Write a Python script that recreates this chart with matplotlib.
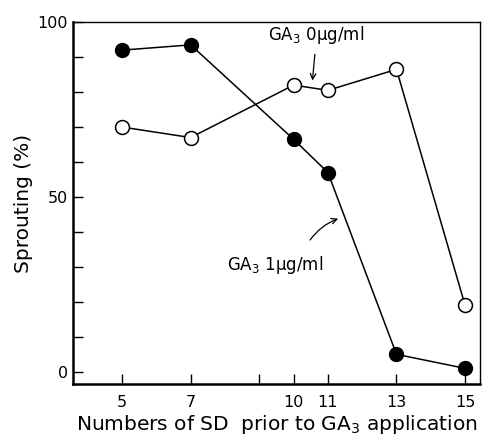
import matplotlib
matplotlib.use("Agg")
import matplotlib.pyplot as plt

# Sprouting (%) vs number of short days before GA3 application
sd_days = [5, 7, 10, 11, 13, 15]
ga3_1ug = [92, 93.5, 66.5, 57, 5, 1]      # filled circles
ga3_0ug = [70, 67, 82, 80.5, 86.5, 19]    # open circles

x_ticks = [5, 7, 9, 10, 11, 13, 15]
x_labels = ['5', '7', '', '10', '11', '13', '15']

plt.rcParams['font.family'] = 'DejaVu Sans'

fig = plt.figure(figsize=(4.9, 4.43), dpi=100)
ax = fig.add_axes([0.149, 0.133, 0.831, 0.817])

ax.plot(sd_days, ga3_1ug, '-o', color='black', lw=1.1, ms=10,
        mfc='black', mec='black')
ax.plot(sd_days, ga3_0ug, '-o', color='black', lw=1.1, ms=10,
        mfc='white', mec='black', mew=1.1)

ax.set_xlim(3.57, 15.44)
ax.set_ylim(-3.5, 100)

ax.set_xticks(x_ticks)
ax.set_xticklabels(x_labels)
ax.set_yticks([0, 50, 100])
ax.set_yticks(range(10, 100, 10), minor=True)
ax.tick_params(axis='both', direction='in', length=7, width=1, labelsize=11.5)
ax.tick_params(axis='y', which='minor', direction='in', length=7, width=1)
ax.tick_params(axis='x', pad=8)

for side in ['left', 'bottom']:
    ax.spines[side].set_linewidth(1.8)
for side in ['top', 'right']:
    ax.spines[side].set_linewidth(1.0)

ax.set_xlabel('Numbers of SD  prior to GA$_3$ application', fontsize=14.5, labelpad=2)
ax.set_ylabel('Sprouting (%)', fontsize=14.5, labelpad=3)

ax.text(10.65, 93.3, 'GA$_3$ 0μg/ml', fontsize=12, ha='center', va='bottom')
ax.annotate('', xy=(10.55, 83.3), xytext=(10.62, 90.8),
            arrowprops=dict(arrowstyle='->', color='black', lw=0.9,
                            shrinkA=0, shrinkB=0))
ax.text(9.46, 30.6, 'GA$_3$ 1μg/ml', fontsize=12, ha='center', va='center')
ax.annotate('', xy=(11.3, 43.8), xytext=(10.48, 37.7),
            arrowprops=dict(arrowstyle='->', color='black', lw=0.9,
                            connectionstyle='arc3,rad=-0.15',
                            shrinkA=0, shrinkB=0))

fig.savefig('out.png', dpi=100)
